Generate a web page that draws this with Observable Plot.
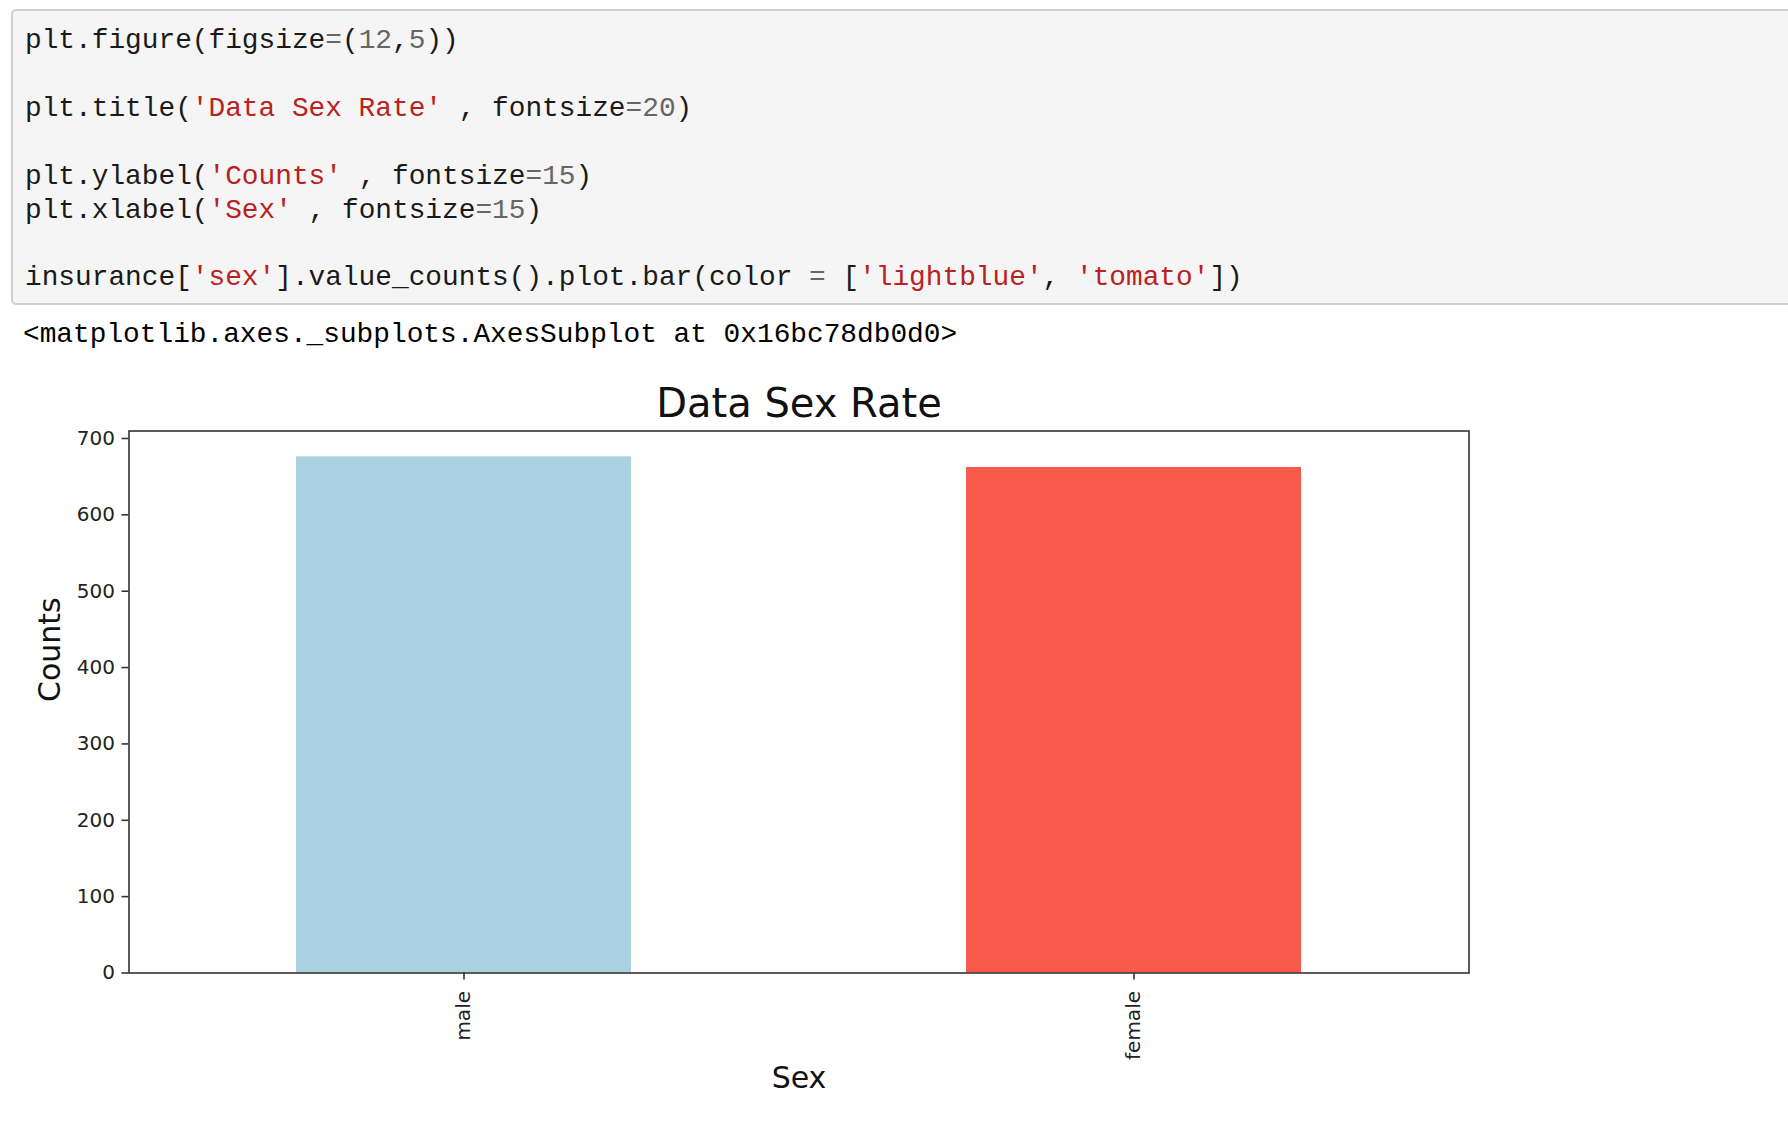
<!DOCTYPE html>
<html>
<head>
<meta charset="utf-8">
<script src="https://cdn.jsdelivr.net/npm/d3@7"></script>
<script src="https://cdn.jsdelivr.net/npm/@observablehq/plot@0.6"></script>
<style>
  html, body { margin: 0; padding: 0; background: #fff; }
  body { width: 1788px; height: 1122px; overflow: hidden; position: relative; }
  .cell {
    position: absolute; left: 11px; top: 9px; width: 1800px; height: 292px;
    background: #f5f5f5; border: 2px solid #cfcfcf; border-radius: 5px; box-sizing: content-box;
  }
  .code {
    margin: 0; position: absolute; font-family: "Liberation Mono", monospace;
    font-size: 27.8px; line-height: 33.9px; height: 33.9px; color: #1a1a1a; white-space: pre;
  }
  .s { color: #ba2121; }
  .n { color: #666; }
  .o { color: #666; }
  #chart { position: absolute; left: 0; top: 330px; }
</style>
</head>
<body>
<div class="cell"></div>
<div class="code" style="left:25px;top:24px">plt.figure(figsize<span class="o">=</span>(<span class="n">12</span>,<span class="n">5</span>))</div>
<div class="code" style="left:25px;top:91.8px">plt.title(<span class="s">'Data Sex Rate'</span> , fontsize<span class="o">=</span><span class="n">20</span>)</div>
<div class="code" style="left:25px;top:159.6px">plt.ylabel(<span class="s">'Counts'</span> , fontsize<span class="o">=</span><span class="n">15</span>)</div>
<div class="code" style="left:25px;top:193.5px">plt.xlabel(<span class="s">'Sex'</span> , fontsize<span class="o">=</span><span class="n">15</span>)</div>
<div class="code" style="left:25px;top:261.3px">insurance[<span class="s">'sex'</span>].value_counts().plot.bar(color <span class="o">=</span> [<span class="s">'lightblue'</span>, <span class="s">'tomato'</span>])</div>
<div class="code" style="left:23px;top:318px;color:#000">&lt;matplotlib.axes._subplots.AxesSubplot at 0x16bc78db0d0&gt;</div>
<div id="chart"></div>
<script>
// ---- data ----
const categories = ["male", "female"];
const counts = [676, 662];
const yTicks = [0, 100, 200, 300, 400, 500, 600, 700];
const titleText = "Data Sex Rate";
const xLabelText = "Sex";
const yLabelText = "Counts";

// ---- styles ----
const barColors = ["#a9d1e0", "#f9594a"];

const data = categories.map((c, i) => ({sex: c, count: counts[i]}));

const chart = Plot.plot({
  width: 1788,
  height: 780,
  marginLeft: 128.5,
  marginRight: 319.5,
  marginTop: 100.5,
  marginBottom: 137.5,
  style: {fontFamily: "DejaVu Sans", fontSize: "20px", color: "#222", background: "transparent"},
  x: {type: "band", domain: categories, paddingInner: 0.5, paddingOuter: 0.25, label: null},
  y: {domain: [0, d3.max(counts) * 1.05], label: null},
  color: {domain: categories, range: barColors},
  marks: [
    Plot.barY(data, {x: "sex", y: "count", fill: "sex"}),
    Plot.frame({stroke: "#333", strokeWidth: 1.6}),
    Plot.axisY({ticks: yTicks, tickSize: 7, tickPadding: 7, strokeWidth: 1.6, stroke: "#333", label: null}),
    Plot.axisX({tickSize: 7, tickPadding: 11, tickRotate: -90, strokeWidth: 1.6, stroke: "#333", label: null}),
    Plot.text([titleText], {frameAnchor: "top", lineAnchor: "middle", dy: -26.5, fontSize: 40, fill: "#111"}),
    Plot.text([xLabelText], {frameAnchor: "bottom", lineAnchor: "middle", dy: 105, fontSize: 30, fill: "#111"}),
    Plot.text([yLabelText], {frameAnchor: "left", lineAnchor: "middle", dx: -79, rotate: -90, fontSize: 30, fill: "#111"})
  ]
});
document.getElementById("chart").appendChild(chart);
</script>
</body>
</html>
